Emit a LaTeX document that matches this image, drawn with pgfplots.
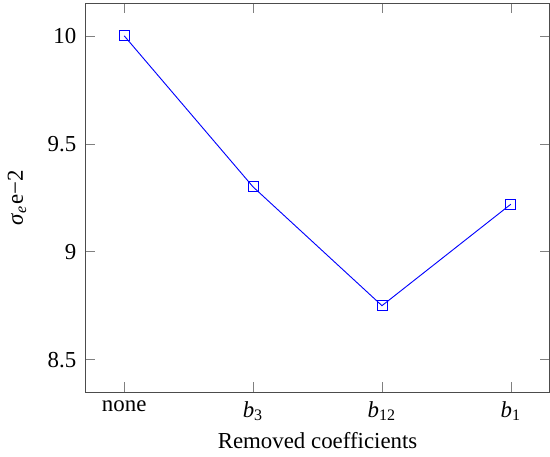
\documentclass[border=0pt]{standalone}
\usepackage{fontspec}
\setmainfont{Liberation Serif}
\usepackage{pgfplots}
\pgfplotsset{compat=1.18}
\begin{document}
\begin{tikzpicture}
	\begin{axis}[
		scale only axis,
		width=203pt, height=170pt,
		xmin=-0.3, xmax=3.3,
		ymin=8.35, ymax=10.15,
		xtick={0,1,2,3},
		xticklabels={none, \textit{b}\textsubscript{3}, \textit{b}\textsubscript{12}, \textit{b}\textsubscript{1}},
		ytick={8.5,9,9.5,10},
		yticklabels={8.5,9,9.5,10},
		xlabel={Removed coefficients},
		xlabel style={yshift=1.7pt},
		xticklabel style={yshift=-0.5pt},
		ylabel={\textit{σ}\textsubscript{\textit{e}}e\textminus2},
		ylabel style={yshift=2.5pt},
		yticklabel style={xshift=-0.5pt},
		/pgf/number format/assume math mode=true,
		tick style={gray},
		axis line style={black!70},
		]
	\addplot[color=blue, mark=square, mark size=2.2pt] coordinates {
		(0, 10.00)
		(1,  9.30)
		(2,  8.75)
		(3,  9.22)
	};
	\end{axis}
	\path (current axis.north) ++(0,1.5pt);
\end{tikzpicture}
\end{document}
